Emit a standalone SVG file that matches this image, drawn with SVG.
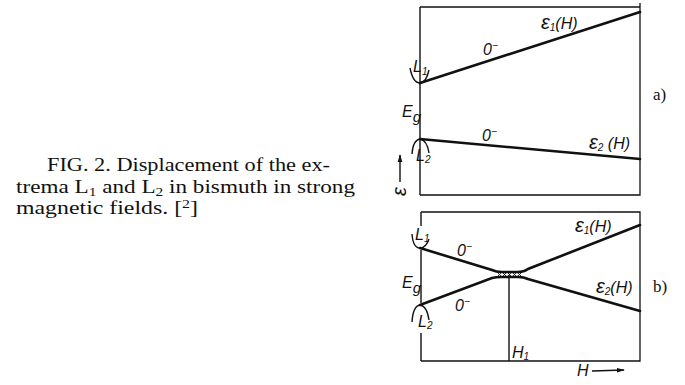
<svg xmlns="http://www.w3.org/2000/svg" width="685" height="385" viewBox="0 0 685 385">
<defs>
<style>
.frame{fill:none;stroke:#111;stroke-width:1.3}
.band{fill:none;stroke:#111;stroke-width:2.6;stroke-linecap:round}
.thin{fill:none;stroke:#111;stroke-width:1.4}
.lbl{font-family:"Liberation Sans","DejaVu Sans",sans-serif;font-style:italic;fill:#111;font-size:16px}
.cap{font-family:"Liberation Serif","Times New Roman",serif;fill:#111;font-size:18px}
.tag{font-family:"Liberation Serif","Times New Roman",serif;fill:#111;font-size:17px}
.sub{font-size:10px}
.eps{font-size:20px}
</style>
<marker id="ah" viewBox="0 0 10 10" refX="9" refY="5" markerWidth="8" markerHeight="8" orient="auto" markerUnits="userSpaceOnUse">
<path d="M0,2 L10,5 L0,8 Z" fill="#111"/>
</marker>
</defs>
<rect width="685" height="385" fill="#fff"/>

<g id="caption">
<text class="cap" x="47" y="171" textLength="283" lengthAdjust="spacingAndGlyphs">FIG. 2. Displacement of the ex-</text>
<text class="cap" x="16" y="193" textLength="339" lengthAdjust="spacingAndGlyphs">trema L<tspan font-size="12" dy="3">1</tspan><tspan dy="-3"> and L</tspan><tspan font-size="12" dy="3">2</tspan><tspan dy="-3"> in bismuth in strong</tspan></text>
<text class="cap" x="16" y="214" textLength="182" lengthAdjust="spacingAndGlyphs">magnetic fields. [<tspan font-size="12" dy="-6">2</tspan><tspan dy="6">]</tspan></text>
</g>

<g id="panel-a">
<path class="frame" d="M420,7 H640 M640,3 V195 H420"/>
<text class="tag" x="653" y="100">a)</text>
<g id="a-axis">
<line class="thin" x1="400" y1="182" x2="400" y2="155" marker-end="url(#ah)"/>
<text class="lbl eps" transform="translate(406,196) rotate(-90)">ε</text>
</g>
<g id="a-L1">
<path class="thin" d="M410,68 Q413,83 420,83 Q426,83 429,70"/>
<text class="lbl" x="413" y="72" font-size="15">L<tspan class="sub" dy="3">1</tspan></text>
</g>
<g id="a-L2">
<path class="thin" d="M412,154 Q413,140 420,139 Q427,140 429,153"/>
<text class="lbl" x="416" y="161" font-size="15">L<tspan class="sub" dy="2">2</tspan></text>
</g>
<text class="lbl" x="402" y="117">E<tspan font-size="15" dy="5">g</tspan></text>
<g id="a-eps1">
<text class="lbl" x="541" y="29"><tspan class="eps">ε</tspan><tspan class="sub" dy="2">1</tspan><tspan dy="-2">(H)</tspan></text>
<text class="lbl" x="483" y="55" font-size="14">0<tspan class="sub" dy="-6">−</tspan></text>
</g>
<g id="a-eps2">
<text class="lbl" x="589" y="149"><tspan class="eps">ε</tspan><tspan class="sub" dy="2">2</tspan><tspan dy="-2"> (H)</tspan></text>
<text class="lbl" x="482" y="141" font-size="14">0<tspan class="sub" dy="-6">−</tspan></text>
</g>
</g>

<g id="panel-b">
<path class="frame" d="M421,212 H640 V361 H421"/>
<line class="thin" x1="509" y1="275" x2="509" y2="361"/>
<text class="tag" x="653" y="292">b)</text>
<g id="b-L1">
<path class="thin" d="M412,234 Q413,248 420,248 Q426,248 429,239"/>
<text class="lbl" x="415" y="240" font-size="15">L<tspan class="sub" dy="2">1</tspan></text>
</g>
<g id="b-L2">
<path class="thin" d="M412,322 Q413,306 420,305 Q427,306 429,320"/>
<text class="lbl" x="418" y="327" font-size="15">L<tspan class="sub" dy="2">2</tspan></text>
</g>
<text class="lbl" x="402" y="288">E<tspan font-size="15" dy="5">g</tspan></text>
<g id="b-eps1">
<text class="lbl" x="575" y="232"><tspan class="eps">ε</tspan><tspan class="sub" dy="2">1</tspan><tspan dy="-2">(H)</tspan></text>
<text class="lbl" x="457" y="256" font-size="14">0<tspan class="sub" dy="-6">−</tspan></text>
</g>
<g id="b-eps2">
<text class="lbl" x="596" y="293"><tspan class="eps">ε</tspan><tspan class="sub" dy="2">2</tspan><tspan dy="-2">(H)</tspan></text>
<text class="lbl" x="455" y="311" font-size="14">0<tspan class="sub" dy="-6">−</tspan></text>
</g>
<text class="lbl" x="512" y="358" font-size="14">H<tspan class="sub" dy="2">1</tspan></text>
<g id="b-haxis">
<text class="lbl" x="577" y="376" font-size="15">H</text>
<line class="thin" x1="592" y1="371" x2="624" y2="370" marker-end="url(#ah)"/>
</g>
<g id="b-hatch">
<path d="M497,272 L502,277 L507,272 L512,277 L517,272 L522,277 M497,277 L502,272 L507,277 L512,272 L517,277 L522,272" fill="none" stroke="#111" stroke-width="0.9"/>
</g>
</g>

<g id="connectors">
<line class="band" x1="420" y1="83" x2="640" y2="12"/>
<line class="band" x1="420" y1="139" x2="640" y2="159"/>
<path class="band" d="M420,248 L492,270 Q496,272 502,272 L518,272 Q524,272 528,269 L640,225"/>
<path class="band" d="M420,305 L492,278 Q496,277 502,277 L518,277 Q524,277 528,279 L640,311"/>
<path class="thin" d="M420,7 V195"/>
<path class="thin" d="M421,212 V226 M421,250 V303 M421,333 V361"/>
</g>
</svg>
